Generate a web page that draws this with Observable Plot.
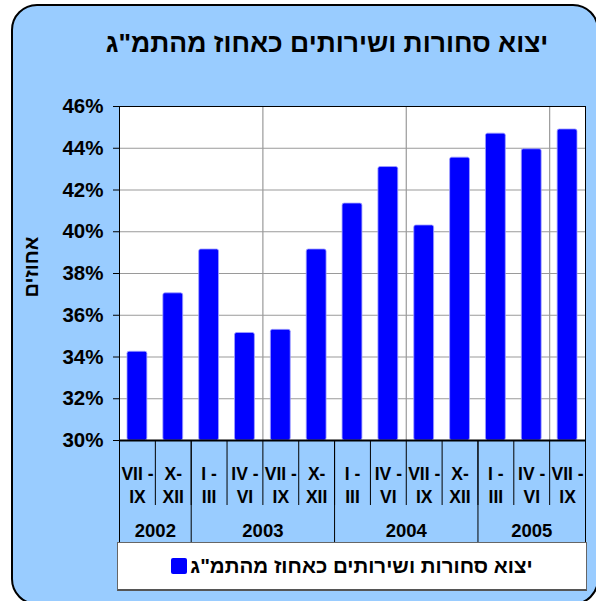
<!DOCTYPE html>
<html><head><meta charset="utf-8">
<script src="https://cdn.jsdelivr.net/npm/d3@7"></script>
<script src="https://cdn.jsdelivr.net/npm/@observablehq/plot@0.6"></script>
<style>
html,body{margin:0;padding:0;background:#fff;overflow:hidden;width:596px;height:601px}
#page{position:relative;width:596px;height:601px;overflow:hidden;font-family:"Liberation Sans",Arial,sans-serif;font-weight:bold;color:#000}
#bg{position:absolute;left:11px;top:4px;width:588px;height:601px;box-sizing:border-box;border:2px solid #000;border-radius:26px;background:#99ccff}
#chart{position:absolute;left:0;top:0}
#title{position:absolute;left:27px;width:600px;top:30px;text-align:center;font-size:26.5px;line-height:26px;direction:rtl;white-space:nowrap}
#ylab{position:absolute;left:-29px;top:257px;width:120px;height:20px;line-height:20px;font-size:20px;text-align:center;direction:rtl;transform:rotate(-90deg)}
#legend{position:absolute;left:117px;top:542px;width:470px;height:49px;box-sizing:border-box;background:#fff;border:1px solid #666;border-bottom:2px solid #555;display:flex;align-items:center;justify-content:center;direction:ltr}
#legend .sw{width:16px;height:16px;background:#0000ff;margin-right:3px;border-radius:2px}
#legend .tx{direction:rtl;font-size:20.5px;white-space:nowrap}
</style>
</head><body>
<div id="page">
  <div id="bg"></div>
  <div id="chart"></div>
  <div id="title"></div>
  <div id="ylab"></div>
  <div id="legend"><span class="sw"></span><span class="tx"></span></div>
</div>
<script>
const quarterLabels = ["VII -\nIX","X-\nXII","I -\nIII","IV -\nVI","VII -\nIX","X-\nXII","I -\nIII","IV -\nVI","VII -\nIX","X-\nXII","I -\nIII","IV -\nVI","VII -\nIX"];
const quarterYears = ["2002","2002","2003","2003","2003","2003","2004","2004","2004","2004","2005","2005","2005"];
const exportShare = [34.25, 37.05, 39.15, 35.15, 35.3, 39.15, 41.35, 43.1, 40.3, 43.55, 44.7, 43.95, 44.9];
const yTicks = [30, 32, 34, 36, 38, 40, 42, 44, 46];
const seriesName = "יצוא סחורות ושירותים כאחוז מהתמ\"ג";
const chartTitle = "יצוא סחורות ושירותים כאחוז מהתמ\"ג";
const yAxisTitle = "אחוזים";
const gridEvery = 4;

document.getElementById("title").textContent = chartTitle;
document.getElementById("ylab").textContent = yAxisTitle;
document.querySelector("#legend .tx").textContent = seriesName;

const n = exportShare.length;
const yMin = yTicks[0];
const data = exportShare.map((v, i) => ({i, v, label: quarterLabels[i], year: quarterYears[i]}));
const years = d3.groups(data, d => d.year).map(([year, rows]) => ({year, start: rows[0].i, end: rows[rows.length - 1].i + 1}));
const yearBounds = [0, ...years.map(d => d.end)];

const chart = Plot.plot({
  width: 596,
  height: 545,
  marginLeft: 119,
  marginRight: 11,
  marginTop: 106,
  marginBottom: 105,
  x: {type: "linear", domain: [0, n], axis: null, label: null},
  y: {domain: [yTicks[0], yTicks[yTicks.length - 1]], axis: null, label: null},
  style: {background: "transparent", fontFamily: "'Liberation Sans', Arial, sans-serif", fontWeight: "bold", color: "black", overflow: "visible"},
  marks: [
    Plot.frame({fill: "white"}),
    Plot.gridY(yTicks.slice(1, -1), {stroke: "#9a9a9a", strokeOpacity: 1, strokeWidth: 1.2}),
    Plot.gridX(d3.range(gridEvery, n, gridEvery), {stroke: "#9a9a9a", strokeOpacity: 1, strokeWidth: 1.2}),
    Plot.rect(data, {x1: "i", x2: d => d.i + 1, y1: () => yMin, y2: "v", insetLeft: 8, insetRight: 8, fill: "#0000ff", stroke: "#a0a0ff", strokeWidth: 0.8, rx: 2}),
    Plot.frame({stroke: "black"}),
    Plot.ruleY([yMin], {stroke: "black", strokeWidth: 2}),
    Plot.axisY(yTicks, {tickFormat: d => d + "%", tickSize: 6, tickPadding: 10, fontSize: 20.5, fontWeight: "bold", stroke: "black", fill: "black"}),
    Plot.axisX(d3.range(0, n + 1), {tickSize: 65, tickFormat: () => "", stroke: "black"}),
    Plot.axisX(yearBounds, {tickSize: 102, tickFormat: () => "", stroke: "black"}),
    Plot.text(data, {x: d => d.i + 0.5, text: "label", frameAnchor: "bottom", lineAnchor: "top", dy: 22.5, fontSize: 17.5, lineHeight: 1.35, fontWeight: "bold", fill: "black"}),
    Plot.text(years, {x: d => (d.start + d.end) / 2, text: "year", frameAnchor: "bottom", lineAnchor: "top", dy: 83, fontSize: 18.5, fontWeight: "bold", fill: "black"})
  ]
});
document.getElementById("chart").appendChild(chart);
</script>
</body></html>
